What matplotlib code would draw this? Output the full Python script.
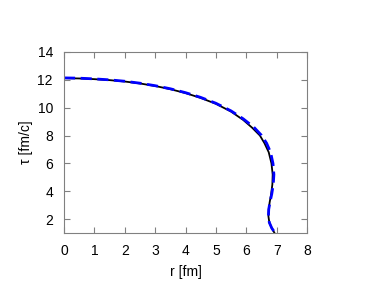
import matplotlib
matplotlib.use("Agg")
import matplotlib.pyplot as plt

plt.rcParams['font.family'] = ['Liberation Sans', 'DejaVu Sans']

# black solid curve
r_black = [0.0, 0.5, 1.0, 1.5, 2.0, 2.5, 3.0, 3.5, 4.0, 4.5, 5.0, 5.5, 5.9, 6.2, 6.45, 6.6,
           6.74, 6.83, 6.87, 6.86, 6.82, 6.77, 6.74, 6.73, 6.76, 6.84, 6.93]
t_black = [12.12, 12.1, 12.05, 11.98, 11.88, 11.74, 11.56, 11.33, 11.05, 10.7, 10.28, 9.72, 9.12,
           8.55, 8.0, 7.45, 6.8, 6.0, 5.2, 4.5, 3.8, 3.2, 2.7, 2.2, 1.75, 1.35, 1.0]

# blue dashed curve
r_blue = [0.0, 0.5, 1.0, 1.5, 2.0, 2.5, 3.0, 3.5, 4.0, 4.5, 5.0, 5.5, 5.9, 6.25, 6.5, 6.67,
          6.8, 6.88, 6.91, 6.89, 6.84, 6.78, 6.74, 6.73, 6.76, 6.84, 6.95]
t_blue = [12.14, 12.12, 12.07, 12.0, 11.9, 11.76, 11.58, 11.36, 11.08, 10.74, 10.32, 9.77, 9.2,
          8.6, 8.02, 7.45, 6.8, 6.0, 5.2, 4.5, 3.8, 3.2, 2.7, 2.2, 1.75, 1.35, 1.0]

fig = plt.figure(figsize=(3.7, 3.0), dpi=100)
ax = fig.add_axes([64 / 370, 1 - 233 / 300, (307 - 64) / 370, (233 - 52) / 300])

ax.plot(r_black, t_black, color='black', linewidth=1.3)
ax.plot(r_blue, t_blue, color='blue', linewidth=2.0, dashes=(4, 2))

ax.set_xlim(0, 8)
ax.set_ylim(1, 14)
ax.set_xticks(range(0, 9))
ax.set_yticks(range(2, 15, 2))
ax.set_xlabel("r [fm]", fontsize=10, labelpad=5)
ax.set_ylabel("τ [fm/c]", fontsize=10, labelpad=3)

for s in ax.spines.values():
    s.set_color('#808080')
    s.set_linewidth(0.8)
ax.tick_params(direction='in', top=True, right=True, length=4, color='#808080',
               labelsize=10, labelcolor='black', pad=8)

fig.savefig("out.png", dpi=100)
